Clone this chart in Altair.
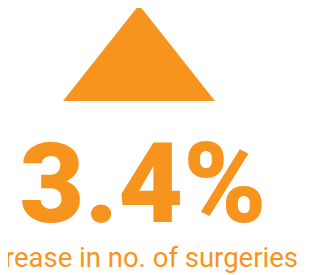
import altair as alt
import pandas as pd

values = ["3.4%"]
labels = ["Increase in no. of surgeries"]
directions = ["up"]

ORANGE = "#F7941E"
df = pd.DataFrame({"value": values, "label": labels, "direction": directions})

base = alt.Chart(df)

tri = base.mark_point(
    shape="M0,-0.632L1,0.632L-1,0.632Z", filled=True, opacity=1,
    color=ORANGE, size=152 * 152, strokeWidth=0,
).encode(x=alt.value(131), y=alt.value(45))

big = base.mark_text(
    font="Roboto", fontWeight=900, fontSize=112, color=ORANGE,
    align="center", baseline="alphabetic",
).encode(text="value:N", x=alt.value(135), y=alt.value(214))

sub = base.mark_text(
    font="Roboto", fontSize=27.5, color=ORANGE,
    align="right", baseline="alphabetic",
).encode(text="label:N", x=alt.value(290), y=alt.value(259))

chart = alt.layer(tri, big, sub).properties(
    width=309, height=267, autosize=alt.AutoSizeParams(type="none"),
    padding=0,
).configure_view(stroke=None)

chart.save("out.html", embed_options={"renderer": "svg", "actions": False})
